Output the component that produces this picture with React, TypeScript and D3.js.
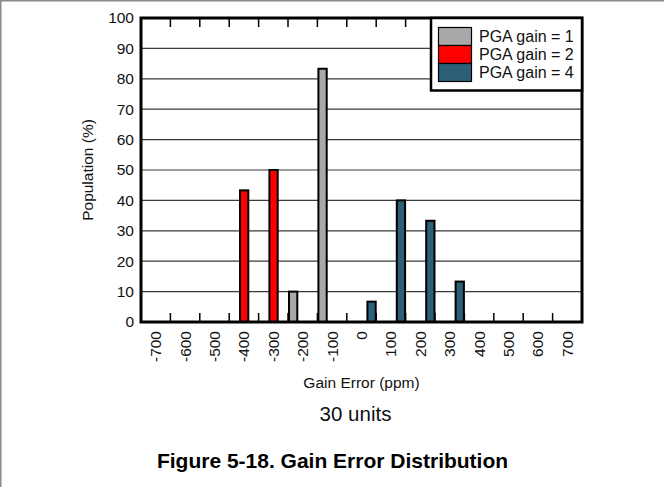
import React, { useEffect, useRef } from 'react'
import { select, scaleBand, scaleLinear, axisLeft, axisBottom, range } from 'd3'

const categories = ['-700', '-600', '-500', '-400', '-300', '-200', '-100', '0', '100', '200', '300', '400', '500', '600', '700']
const seriesLabels = ['PGA gain = 1', 'PGA gain = 2', 'PGA gain = 4']
const gain1 = [0, 0, 0, 0, 0, 10, 83.3, 0, 0, 0, 0, 0, 0, 0, 0]
const gain2 = [0, 0, 0, 43.3, 50, 0, 0, 0, 0, 0, 0, 0, 0, 0, 0]
const gain4 = [0, 0, 0, 0, 0, 0, 0, 6.7, 40, 33.3, 13.3, 0, 0, 0, 0]
const yTicks = [0, 10, 20, 30, 40, 50, 60, 70, 80, 90, 100]
const colors = ['#a9a9a9', '#ff0000', '#2d5f78']

const W = 664
const H = 487
const m = { left: 141, right: 582, top: 18, bottom: 322 }
const FONT = "'Liberation Sans', Arial, sans-serif"

export default function App() {
  const svgRef = useRef<SVGSVGElement | null>(null)

  useEffect(() => {
    if (!svgRef.current) return
    const svg = select(svgRef.current)
    svg.selectAll('*').remove()

    const x = scaleBand().domain(categories).range([m.left, m.right]).padding(0)
    const inner = scaleBand().domain(seriesLabels).range([0, x.bandwidth()]).padding(0)
    const y = scaleLinear().domain([0, 100]).range([m.bottom, m.top])

    // page frame
    svg.append('path')
      .attr('d', `M0.75,${H} V0.75 H${W}`)
      .attr('fill', 'none')
      .attr('stroke', '#8a8a8a')
      .attr('stroke-width', 1.5)

    // grid
    svg.append('g')
      .selectAll('line')
      .data(yTicks.filter(t => t > 0 && t < 100))
      .join('line')
      .attr('x1', m.left).attr('x2', m.right)
      .attr('y1', d => y(d)).attr('y2', d => y(d))
      .attr('stroke', '#3a3a3a')
      .attr('stroke-width', 1.2)

    // boundary ticks, top and bottom
    const bounds = range(1, categories.length).map(k => m.left + k * x.step())
    const ticks = svg.append('g').attr('stroke', '#000').attr('stroke-width', 1.5)
    ticks.selectAll('.tt').data(bounds).join('line').attr('class', 'tt')
      .attr('x1', d => d).attr('x2', d => d).attr('y1', m.top).attr('y2', m.top + 9)
    ticks.selectAll('.tb').data(bounds).join('line').attr('class', 'tb')
      .attr('x1', d => d).attr('x2', d => d).attr('y1', m.bottom).attr('y2', m.bottom - 9)

    // bars
    const series = [gain1, gain2, gain4]
    series.forEach((vals, si) => {
      svg.append('g')
        .attr('fill', colors[si])
        .attr('stroke', '#000')
        .attr('stroke-width', 2)
        .selectAll('rect')
        .data(vals.map((v, i) => ({ v, c: categories[i] })).filter(d => d.v > 0))
        .join('rect')
        .attr('x', d => (x(d.c) ?? 0) + (inner(seriesLabels[si]) ?? 0) + 1)
        .attr('width', inner.bandwidth() - 1.5)
        .attr('y', d => y(d.v))
        .attr('height', d => y(0) - y(d.v))
    })

    // plot border
    svg.append('rect')
      .attr('x', m.left).attr('y', m.top)
      .attr('width', m.right - m.left).attr('height', m.bottom - m.top)
      .attr('fill', 'none').attr('stroke', '#000').attr('stroke-width', 3)

    // y axis labels
    const yAxis = axisLeft(y).tickValues(yTicks).tickSize(0).tickPadding(7)
    const gy = svg.append('g').attr('transform', `translate(${m.left},0)`).call(yAxis)
    gy.select('.domain').remove()
    gy.selectAll('text').attr('font-size', 15.5).attr('font-family', FONT).attr('fill', '#111')

    // x axis labels
    const xAxis = axisBottom(x).tickSize(0)
    const gx = svg.append('g').attr('transform', `translate(0,${m.bottom})`).call(xAxis)
    gx.select('.domain').remove()
    gx.selectAll('text')
      .attr('font-size', 15.5).attr('font-family', FONT).attr('fill', '#111')
      .attr('transform', 'rotate(-90)')
      .attr('text-anchor', 'end')
      .attr('x', -9).attr('y', 0).attr('dy', '0.35em')

    // legend
    const lg = svg.append('g')
    lg.append('rect')
      .attr('x', 431).attr('y', m.top)
      .attr('width', m.right - 431).attr('height', 72.5)
      .attr('fill', '#fff').attr('stroke', '#000').attr('stroke-width', 2.5)
    seriesLabels.forEach((lab, i) => {
      lg.append('rect')
        .attr('x', 438.5).attr('y', 27.5 + i * 18)
        .attr('width', 33).attr('height', 18)
        .attr('fill', colors[i]).attr('stroke', '#000').attr('stroke-width', 1.2)
      lg.append('text')
        .attr('x', 479).attr('y', 36.5 + i * 18).attr('dy', '0.36em')
        .attr('font-size', 16).attr('font-family', FONT).attr('fill', '#111')
        .text(lab)
    })

    // titles
    svg.append('text')
      .attr('transform', `translate(88,170) rotate(-90)`)
      .attr('text-anchor', 'middle').attr('dy', '0.35em')
      .attr('font-size', 15.5).attr('font-family', FONT).attr('fill', '#111')
      .text('Population (%)')
    svg.append('text')
      .attr('x', (m.left + m.right) / 2).attr('y', 388)
      .attr('text-anchor', 'middle')
      .attr('font-size', 15.5).attr('font-family', FONT).attr('fill', '#111')
      .text('Gain Error (ppm)')
    svg.append('text')
      .attr('x', 355.5).attr('y', 420.5)
      .attr('text-anchor', 'middle')
      .attr('font-size', 20.5).attr('font-family', FONT).attr('fill', '#111')
      .text('30 units')
    svg.append('text')
      .attr('x', 332.5).attr('y', 467.5)
      .attr('text-anchor', 'middle')
      .attr('font-size', 21).attr('font-weight', 'bold').attr('font-family', FONT).attr('fill', '#000')
      .text('Figure 5-18. Gain Error Distribution')
  }, [])

  return (
    <svg
      ref={svgRef}
      width={W}
      height={H}
      style={{ position: 'absolute', left: 0, top: 0, background: '#fff' }}
    />
  )
}
